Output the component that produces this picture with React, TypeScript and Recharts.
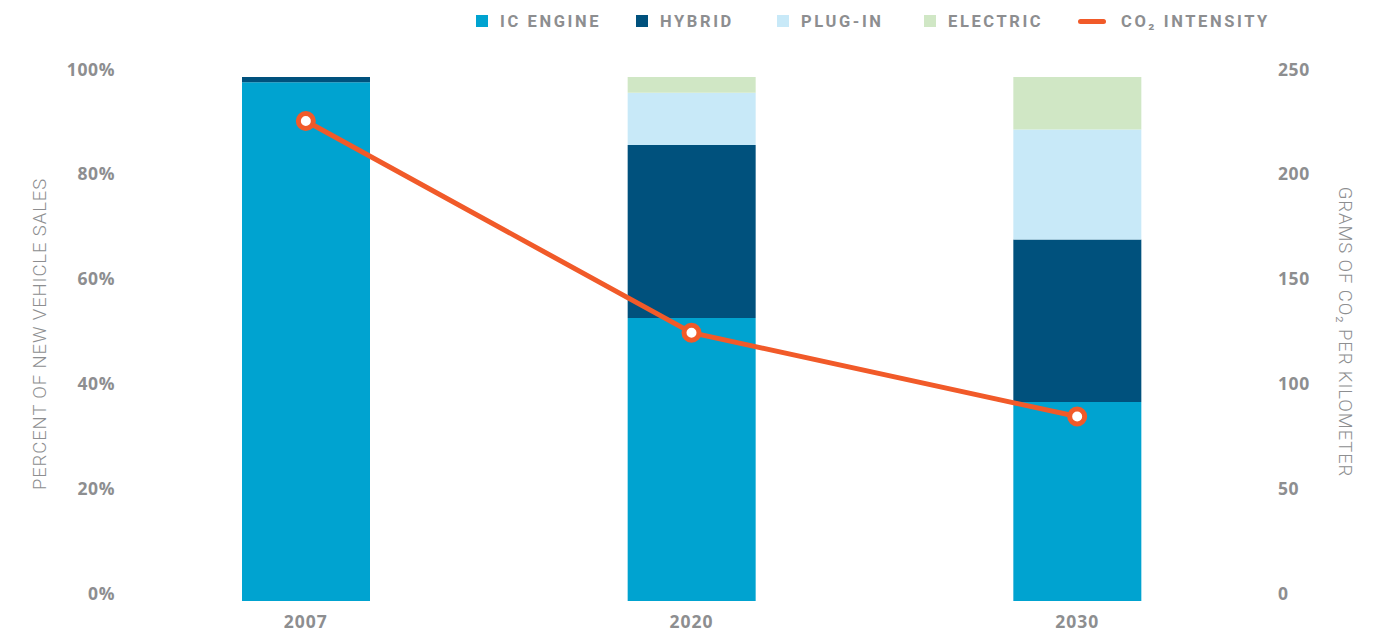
import { ComposedChart, Bar, Line, XAxis, YAxis } from 'recharts';

const YEARS = ['2007', '2020', '2030'];
const IC_ENGINE = [99, 54, 38];
const HYBRID = [1, 33, 31];
const PLUG_IN = [0, 10, 21];
const ELECTRIC = [0, 3, 10];
const CO2_INTENSITY = [229, 128, 88];

const PCT_TICKS = [0, 20, 40, 60, 80, 100];
const CO2_TICKS = [0, 50, 100, 150, 200, 250];

const COLORS = {
  ic: '#00a3d0',
  hybrid: '#00517d',
  plugIn: '#c8e9f8',
  electric: '#d0e7c5',
  co2: '#f15a29',
};

const GREY = '#8d8e90';
const FONT = "'Open Sans', 'DejaVu Sans', sans-serif";

const data = YEARS.map((year, i) => ({
  year,
  ic: IC_ENGINE[i],
  hybrid: HYBRID[i],
  plugIn: PLUG_IN[i],
  electric: ELECTRIC[i],
  co2: CO2_INTENSITY[i],
}));

const LEGEND = [
  { label: 'IC ENGINE', color: COLORS.ic, type: 'square', left: 476 },
  { label: 'HYBRID', color: COLORS.hybrid, type: 'square', left: 636 },
  { label: 'PLUG-IN', color: COLORS.plugIn, type: 'square', left: 777 },
  { label: 'ELECTRIC', color: COLORS.electric, type: 'square', left: 924 },
  { label: 'CO₂ INTENSITY', color: COLORS.co2, type: 'line', left: 1078 },
];

const tickStyle = { fill: GREY, fontSize: 17.5, fontWeight: 700, fontFamily: FONT, letterSpacing: 0.6 };

const LeftTick = ({ x, y, payload }: any) => (
  <text x={x + 2} y={y - 7.5} dy="0.35em" textAnchor="end" {...tickStyle}>
    {payload.value}%
  </text>
);

const RightTick = ({ x, y, payload }: any) => (
  <text x={x + 8} y={y - 7.5} dy="0.35em" textAnchor="start" {...tickStyle}>
    {payload.value}
  </text>
);

const BottomTick = ({ x, y, payload }: any) => (
  <text x={x} y={y + 21} dy="0.35em" textAnchor="middle" {...tickStyle} letterSpacing={1}>
    {payload.value}
  </text>
);

const titleStyle = { fill: GREY, fontSize: 18.5, fontWeight: 300, fontFamily: 'Roboto, sans-serif', letterSpacing: 0.9 };

const LeftTitle = ({ viewBox }: any) => {
  const cx = viewBox.x + 40;
  const cy = viewBox.y + viewBox.height / 2 - 5;
  return (
    <text x={cx} y={cy} dy="0.35em" textAnchor="middle" transform={`rotate(-90, ${cx}, ${cy})`} {...titleStyle}>
      PERCENT OF NEW VEHICLE SALES
    </text>
  );
};

const RightTitle = ({ viewBox }: any) => {
  const cx = viewBox.x + 75;
  const cy = viewBox.y + viewBox.height / 2 - 7;
  return (
    <text x={cx} y={cy} dy="0.35em" textAnchor="middle" transform={`rotate(90, ${cx}, ${cy})`} {...titleStyle}>
      GRAMS OF CO₂ PER KILOMETER
    </text>
  );
};

export default function App() {
  return (
    <div style={{ position: 'absolute', left: 0, top: 0, width: 1384, height: 635, background: '#fff' }}>
      {/* legend */}
      {LEGEND.map(item => (
        <div
          key={item.label}
          style={{
            position: 'absolute',
            left: item.left,
            top: 8,
            height: 26,
            display: 'flex',
            alignItems: 'center',
            fontFamily: 'Roboto, sans-serif',
            fontWeight: 700,
            fontSize: 16.5,
            letterSpacing: 2.6,
            color: GREY,
            whiteSpace: 'nowrap',
          }}
        >
          {item.type === 'square' ? (
            <span style={{ width: 12, height: 12, background: item.color, marginRight: 12 }} />
          ) : (
            <span style={{ width: 28, height: 5, borderRadius: 3, background: item.color, marginRight: 15 }} />
          )}
          {item.label}
        </div>
      ))}
      <ComposedChart width={1384} height={635} data={data} margin={{ top: 77, right: 0, bottom: 0, left: 0 }}>
        <XAxis dataKey="year" axisLine={false} tickLine={false} tickSize={0} tickMargin={0} height={34} tick={<BottomTick />} />
        <YAxis
          yAxisId="pct"
          orientation="left"
          width={113}
          domain={[0, 100]}
          ticks={PCT_TICKS}
          axisLine={false}
          tickLine={false}
          tickSize={0}
          tickMargin={0}
          tick={<LeftTick />}
          label={{ content: <LeftTitle /> } as any}
        />
        <YAxis
          yAxisId="co2"
          orientation="right"
          width={114}
          domain={[0, 250]}
          ticks={CO2_TICKS}
          axisLine={false}
          tickLine={false}
          tickSize={0}
          tickMargin={0}
          tick={<RightTick />}
          label={{ content: <RightTitle /> } as any}
        />
        <Bar yAxisId="pct" dataKey="ic" stackId="a" fill={COLORS.ic} barSize={128} isAnimationActive={false} />
        <Bar yAxisId="pct" dataKey="hybrid" stackId="a" fill={COLORS.hybrid} barSize={128} isAnimationActive={false} />
        <Bar yAxisId="pct" dataKey="plugIn" stackId="a" fill={COLORS.plugIn} barSize={128} isAnimationActive={false} />
        <Bar yAxisId="pct" dataKey="electric" stackId="a" fill={COLORS.electric} barSize={128} isAnimationActive={false} />
        <Line
          yAxisId="co2"
          type="linear"
          dataKey="co2"
          stroke={COLORS.co2}
          strokeWidth={5}
          dot={{ r: 7.5, fill: '#fff', stroke: COLORS.co2, strokeWidth: 5 }}
          activeDot={false}
          isAnimationActive={false}
        />
      </ComposedChart>
    </div>
  );
}
